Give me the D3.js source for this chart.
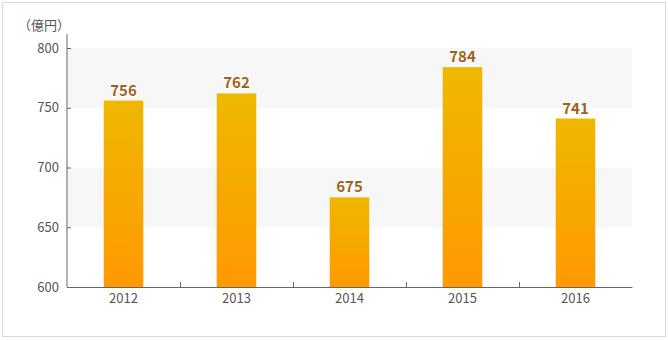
<!DOCTYPE html>
<html lang="ja">
<head>
<meta charset="UTF-8">
<script src="https://d3js.org/d3.v7.min.js"></script>
<style>
  body { margin: 0; background: #fff; }
  text { font-family: "Noto Sans CJK JP", "Noto Sans", sans-serif; }
</style>
</head>
<body>
<div id="chart"></div>
<script>
// data
const years = ["2012", "2013", "2014", "2015", "2016"]
const sales = [756, 762, 675, 784, 741]
const yTicks = [600, 650, 700, 750, 800]
const unitLabel = "（億円）"

const width = 668
const height = 340
const margin = {top: 48, right: 36, bottom: 53, left: 67}

const svg = d3.select("#chart")
    .append("svg")
    .attr("width", width)
    .attr("height", height)

// frame around the whole chart
svg.append("rect")
    .attr("x", 2.5).attr("y", 2.5)
    .attr("width", 663).attr("height", 334)
    .attr("fill", "#fff")
    .attr("stroke", "#d8d8d8")

const x = d3.scaleBand()
    .domain(years)
    .range([margin.left, width - margin.right])
    .paddingInner(0.65)
    .paddingOuter(0.325)

const xb = d3.scaleBand()
    .domain(years)
    .range([margin.left, width - margin.right])

const y = d3.scaleLinear()
    .domain([600, 800])
    .range([height - margin.bottom, margin.top])

// shaded bands 650-700 and 750-800
const bands = [[650, 700], [750, 800]]
svg.append("g")
    .selectAll("rect")
    .data(bands)
    .join("rect")
      .attr("x", margin.left)
      .attr("y", d => y(d[1]))
      .attr("width", width - margin.right - margin.left)
      .attr("height", d => y(d[0]) - y(d[1]))
      .attr("fill", "#f7f7f7")

// gradient for bars
const grad = svg.append("defs").append("linearGradient")
    .attr("id", "barGrad")
    .attr("x1", 0).attr("y1", 0).attr("x2", 0).attr("y2", 1)
grad.append("stop").attr("offset", "0%").attr("stop-color", "#eeb800")
grad.append("stop").attr("offset", "100%").attr("stop-color", "#ff9900")

const data = years.map((yr, i) => ({year: yr, value: sales[i]}))

svg.append("g")
    .selectAll("rect")
    .data(data)
    .join("rect")
      .attr("x", d => x(d.year))
      .attr("y", d => y(d.value))
      .attr("width", x.bandwidth())
      .attr("height", d => y(600) - y(d.value))
      .attr("fill", "url(#barGrad)")

// value labels
svg.append("g")
    .selectAll("text")
    .data(data)
    .join("text")
      .attr("x", d => x(d.year) + x.bandwidth() / 2)
      .attr("y", d => y(d.value) - 5)
      .attr("text-anchor", "middle")
      .attr("font-size", 15)
      .attr("font-weight", "bold")
      .attr("fill", "#a0621a")
      .attr("stroke", "#fff")
      .attr("stroke-width", 2)
      .attr("paint-order", "stroke")
      .text(d => d.value)

// y axis
const yAxis = svg.append("g")
    .attr("transform", `translate(${margin.left},0)`)
    .call(d3.axisLeft(y).tickValues(yTicks).tickSize(-4).tickPadding(8))
yAxis.select(".domain").attr("stroke", "#666").attr("d", `M0,${y(800) - 14}V${y(600)}`)
yAxis.selectAll(".tick line").attr("stroke", "#666")
yAxis.selectAll(".tick text")
    .attr("font-size", 13)
    .attr("fill", "#555")
    .attr("font-family", "'Noto Sans CJK JP', sans-serif")

// x axis
const xAxis = svg.append("g")
    .attr("transform", `translate(0,${height - margin.bottom})`)
    .call(d3.axisBottom(x).tickSize(0).tickPadding(7))
xAxis.select(".domain").attr("stroke", "#666")
xAxis.selectAll(".tick text")
    .attr("font-size", 13)
    .attr("fill", "#555")
    .attr("font-family", "'Noto Sans CJK JP', sans-serif")

// separators between categories
svg.append("g")
    .selectAll("line")
    .data(years.slice(1))
    .join("line")
      .attr("x1", d => xb(d) + 0.5)
      .attr("x2", d => xb(d) + 0.5)
      .attr("y1", y(600))
      .attr("y2", y(600) - 5)
      .attr("stroke", "#666")

// unit
svg.append("text")
    .attr("x", 18)
    .attr("y", 30)
    .attr("font-size", 13)
    .attr("fill", "#555")
    .text(unitLabel)
</script>
</body>
</html>
